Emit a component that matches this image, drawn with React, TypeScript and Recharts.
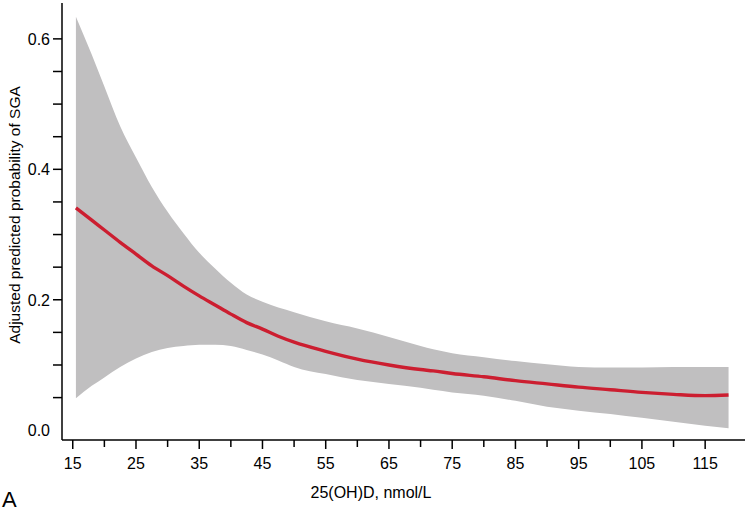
import { Area, ComposedChart, Line, XAxis, YAxis } from 'recharts'

const xs = [15.5, 18, 20, 22.5, 25, 27.5, 30, 32.5, 35, 37.5, 40, 42.5, 45, 47.5, 50, 55, 60, 65, 70, 72, 75, 80, 85, 90, 95, 100, 105, 110, 115, 118.7]
const prob = [0.341, 0.322, 0.307, 0.288, 0.27, 0.252, 0.237, 0.221, 0.206, 0.192, 0.178, 0.165, 0.155, 0.144, 0.135, 0.121, 0.109, 0.1, 0.093, 0.091, 0.087, 0.082, 0.076, 0.071, 0.066, 0.062, 0.058, 0.055, 0.053, 0.054]
const ciLow = [0.049, 0.068, 0.081, 0.097, 0.11, 0.12, 0.126, 0.129, 0.131, 0.131, 0.129, 0.123, 0.116, 0.107, 0.097, 0.086, 0.077, 0.071, 0.065, 0.062, 0.058, 0.053, 0.045, 0.036, 0.03, 0.025, 0.019, 0.013, 0.007, 0.003]
const ciHigh = [0.634, 0.576, 0.527, 0.466, 0.418, 0.373, 0.335, 0.302, 0.272, 0.248, 0.226, 0.208, 0.197, 0.188, 0.181, 0.167, 0.156, 0.143, 0.129, 0.124, 0.118, 0.112, 0.106, 0.101, 0.097, 0.096, 0.096, 0.097, 0.097, 0.097]

const xTicks = [15, 20, 25, 30, 35, 40, 45, 50, 55, 60, 65, 70, 75, 80, 85, 90, 95, 100, 105, 110, 115]
const xLabelTicks = [15, 25, 35, 45, 55, 65, 75, 85, 95, 105, 115]
const yTicks = [0, 0.05, 0.1, 0.15, 0.2, 0.25, 0.3, 0.35, 0.4, 0.45, 0.5, 0.55, 0.6]
const yLabelTicks = [0, 0.2, 0.4, 0.6]

const font = '"Liberation Sans", Arial, sans-serif'

const data = xs.map((x, i) => ({ x, prob: prob[i], band: [ciLow[i], ciHigh[i]] }))

function XTick({ x, y, payload }: any) {
  const v = payload.value
  const major = xLabelTicks.includes(v)
  return (
    <g>
      <line x1={x} x2={x} y1={y} y2={y + (major ? 9 : 7)} stroke="#000" strokeWidth={1.5} />
      {major && (
        <text x={x} y={y + 29} textAnchor="middle" fontSize={16} fontFamily={font} fill="#000">
          {v}
        </text>
      )}
    </g>
  )
}

function YTick({ x, y, payload }: any) {
  const v = payload.value
  const major = yLabelTicks.some((t) => Math.abs(t - v) < 1e-6)
  return (
    <g>
      {v > 0 && <line x1={x - 9} x2={x} y1={y} y2={y} stroke="#000" strokeWidth={1.5} />}
      {major && (
        <text x={x - 12} y={y + 6} textAnchor="end" fontSize={16} fontFamily={font} fill="#000">
          {v.toFixed(1)}
        </text>
      )}
    </g>
  )
}

function XLabel({ viewBox }: any) {
  const { y } = viewBox
  return (
    <g>
      <text x={371} y={y + 58} textAnchor="middle" fontSize={16} fontFamily={font} fill="#000">
        25(OH)D, nmol/L
      </text>
      <text x={2} y={y + 67} fontSize={22} fontFamily={font} fill="#000">
        A
      </text>
    </g>
  )
}

function YLabel() {
  return (
    <text
      x={20}
      y={215}
      transform="rotate(-90 20 215)"
      textAnchor="middle"
      fontSize={15.5}
      fontFamily={font}
      fill="#000"
    >
      Adjusted predicted probability of SGA
    </text>
  )
}

export default function App() {
  return (
    <div style={{ position: 'absolute', left: 0, top: 0, background: '#fff' }}>
      <ComposedChart width={750} height={514} data={data} margin={{ top: 3, right: 5, left: 0, bottom: 0 }}>
        <XAxis
          type="number"
          dataKey="x"
          domain={[13.3, 121.3]}
          ticks={xTicks}
          interval={0}
          allowDataOverflow
          height={74}
          tickSize={0}
          tickMargin={0}
          tickLine={false}
          tick={<XTick />}
          axisLine={{ stroke: '#000', strokeWidth: 1.5 }}
          label={<XLabel />}
        />
        <YAxis
          type="number"
          domain={[-0.015, 0.655]}
          ticks={yTicks}
          interval={0}
          allowDataOverflow
          width={62}
          tickSize={0}
          tickMargin={0}
          tickLine={false}
          tick={<YTick />}
          axisLine={{ stroke: '#000', strokeWidth: 1.5 }}
          label={<YLabel />}
        />
        <Area
          type="monotone"
          dataKey="band"
          stroke="none"
          fill="#c0bfc0"
          fillOpacity={1}
          isAnimationActive={false}
        />
        <Line
          type="monotone"
          dataKey="prob"
          stroke="#cc1e30"
          strokeWidth={3.4}
          dot={false}
          activeDot={false}
          isAnimationActive={false}
        />
      </ComposedChart>
    </div>
  )
}
